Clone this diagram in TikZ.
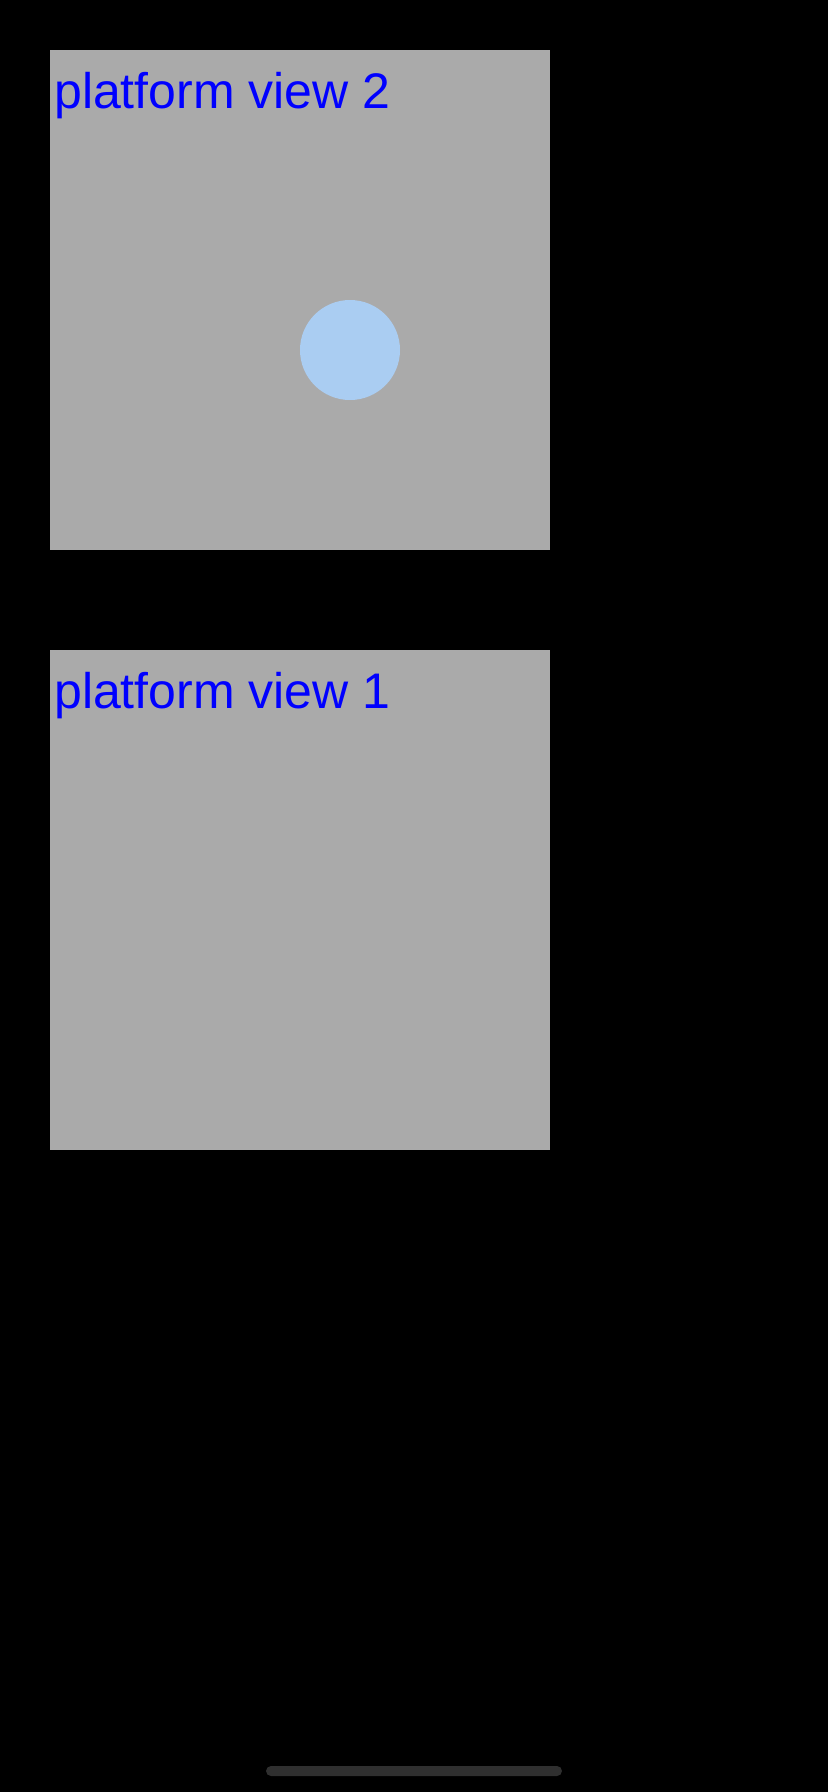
\documentclass[tikz,border=0pt]{standalone}
\usepackage{fontspec}
\setmainfont{Liberation Sans}
\definecolor{boxgray}{HTML}{AAAAAA}
\definecolor{dotblue}{HTML}{AACDF2}
\definecolor{textblue}{HTML}{0000FF}
\definecolor{barcol}{HTML}{2F2F2F}
\begin{document}
\begin{tikzpicture}[x=1pt,y=-1pt,
  pview/.style={fill=boxgray,draw=none,minimum width=500pt,minimum height=500pt,inner sep=0,anchor=north west},
  plabel/.style={text=textblue,font=\fontsize{50}{60}\selectfont,inner sep=0,anchor=base west}]
\fill[black] (0,0) rectangle (828,1792);
\useasboundingbox (0,0) rectangle (828,1792);
\node[pview] (pv2) at (50,50) {};
\node[plabel] (l2) at (54,108) {platform view 2};
\node[circle,fill=dotblue,draw=none,minimum size=100pt,inner sep=0] (dot) at (350,350) {};
\node[pview] (pv1) at (50,650) {};
\node[plabel] (l1) at (54,708) {platform view 1};
\node[fill=barcol,draw=none,rounded corners=5pt,minimum width=296pt,minimum height=10pt,inner sep=0] (bar) at (414,1771) {};
\end{tikzpicture}
\end{document}
